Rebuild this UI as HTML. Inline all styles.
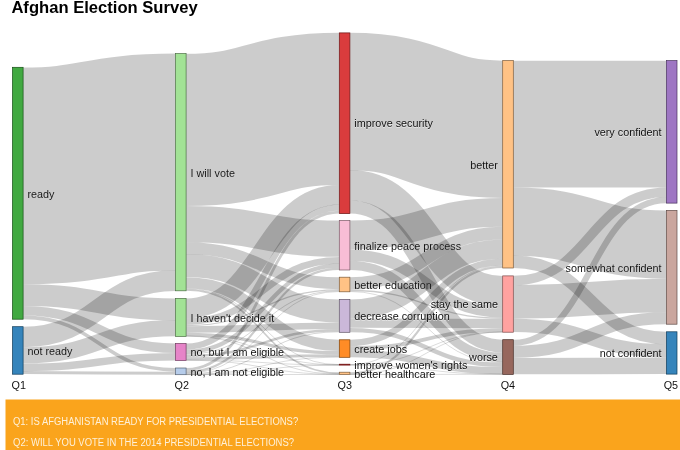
<!DOCTYPE html>
<html><head><meta charset="utf-8"><title>Afghan Election Survey</title>
<style>
html,body{margin:0;padding:0;background:#fff;}
body{width:680px;height:450px;overflow:hidden;position:relative;font-family:"Liberation Sans",Arial,sans-serif;}
h1{position:absolute;left:11.4px;top:-2px;margin:0;font-size:16.6px;line-height:20px;font-weight:bold;color:#000;white-space:nowrap;}
svg{position:absolute;left:0;top:0;}
.link path{fill:none;stroke:#000;stroke-opacity:.2;}
.node rect{fill-opacity:.9;stroke-width:.7;}
.lab text,.q text{font-size:10.8px;fill:#111;}
.lab text{text-shadow:0 .7px 0 rgba(255,255,255,.55);}
.leg text{font-size:10px;fill:#fef0d8;}
</style></head><body>
<h1>Afghan Election Survey</h1>
<svg width="680" height="450" viewBox="0 0 680 450">
<g class="link">
<path d="M23.1,175.9C99.3,175.9 99.3,162.0 175.5,162.0" stroke-width="216.86"/>
<path d="M23.1,295.2C99.3,295.2 99.3,309.3 175.5,309.3" stroke-width="21.70"/>
<path d="M23.1,310.8C99.3,310.8 99.3,348.2 175.5,348.2" stroke-width="9.50"/>
<path d="M23.1,317.4C99.3,317.4 99.3,369.8 175.5,369.8" stroke-width="3.70"/>
<path d="M23.1,337.0C99.3,337.0 99.3,280.6 175.5,280.6" stroke-width="20.55"/>
<path d="M23.1,355.4C99.3,355.4 99.3,328.2 175.5,328.2" stroke-width="16.25"/>
<path d="M23.1,367.4C99.3,367.4 99.3,356.7 175.5,356.7" stroke-width="7.52"/>
<path d="M23.1,372.6C99.3,372.6 99.3,373.2 175.5,373.2" stroke-width="3.01"/>
<path d="M186.1,129.9C262.7,129.9 262.7,108.9 339.3,108.9" stroke-width="152.28"/>
<path d="M186.1,224.2C262.7,224.2 262.7,238.7 339.3,238.7" stroke-width="36.29"/>
<path d="M186.1,248.2C262.7,248.2 262.7,283.2 339.3,283.2" stroke-width="11.93"/>
<path d="M186.1,265.6C262.7,265.6 262.7,310.9 339.3,310.9" stroke-width="23.04"/>
<path d="M186.1,282.9C262.7,282.9 262.7,345.4 339.3,345.4" stroke-width="11.44"/>
<path d="M186.1,288.9C262.7,288.9 262.7,364.6 339.3,364.6" stroke-width="0.71"/>
<path d="M186.1,290.0C262.7,290.0 262.7,373.1 339.3,373.1" stroke-width="1.62"/>
<path d="M186.1,308.3C262.7,308.3 262.7,194.8 339.3,194.8" stroke-width="19.67"/>
<path d="M186.1,321.6C262.7,321.6 262.7,260.3 339.3,260.3" stroke-width="6.74"/>
<path d="M186.1,325.6C262.7,325.6 262.7,289.8 339.3,289.8" stroke-width="1.22"/>
<path d="M186.1,329.4C262.7,329.4 262.7,325.7 339.3,325.7" stroke-width="6.54"/>
<path d="M186.1,334.3C262.7,334.3 262.7,352.7 339.3,352.7" stroke-width="3.19"/>
<path d="M186.1,336.0C262.7,336.0 262.7,364.9 339.3,364.9" stroke-width="0.71"/>
<path d="M186.1,336.2C262.7,336.2 262.7,374.0 339.3,374.0" stroke-width="0.71"/>
<path d="M186.1,346.6C262.7,346.6 262.7,207.7 339.3,207.7" stroke-width="6.21"/>
<path d="M186.1,351.8C262.7,351.8 262.7,265.7 339.3,265.7" stroke-width="4.22"/>
<path d="M186.1,354.3C262.7,354.3 262.7,290.8 339.3,290.8" stroke-width="0.81"/>
<path d="M186.1,356.0C262.7,356.0 262.7,330.2 339.3,330.2" stroke-width="2.51"/>
<path d="M186.1,358.6C262.7,358.6 262.7,355.7 339.3,355.7" stroke-width="2.79"/>
<path d="M186.1,360.1C262.7,360.1 262.7,365.0 339.3,365.0" stroke-width="0.71"/>
<path d="M186.1,360.3C262.7,360.3 262.7,374.3 339.3,374.3" stroke-width="0.71"/>
<path d="M186.1,369.4C262.7,369.4 262.7,212.2 339.3,212.2" stroke-width="2.82"/>
<path d="M186.1,371.9C262.7,371.9 262.7,268.9 339.3,268.9" stroke-width="2.22"/>
<path d="M186.1,373.3C262.7,373.3 262.7,291.5 339.3,291.5" stroke-width="0.71"/>
<path d="M186.1,373.9C262.7,373.9 262.7,331.8 339.3,331.8" stroke-width="0.81"/>
<path d="M186.1,374.4C262.7,374.4 262.7,357.2 339.3,357.2" stroke-width="0.71"/>
<path d="M186.1,374.6C262.7,374.6 262.7,365.1 339.3,365.1" stroke-width="0.71"/>
<path d="M186.1,374.6C262.7,374.6 262.7,374.5 339.3,374.5" stroke-width="0.71"/>
<path d="M349.9,101.5C426.3,101.5 426.3,129.3 502.7,129.3" stroke-width="137.33"/>
<path d="M349.9,185.3C426.3,185.3 426.3,291.1 502.7,291.1" stroke-width="30.40"/>
<path d="M349.9,207.1C426.3,207.1 426.3,346.2 502.7,346.2" stroke-width="13.00"/>
<path d="M349.9,235.0C426.3,235.0 426.3,212.4 502.7,212.4" stroke-width="28.84"/>
<path d="M349.9,255.1C426.3,255.1 426.3,311.9 502.7,311.9" stroke-width="11.31"/>
<path d="M349.9,265.4C426.3,265.4 426.3,357.3 502.7,357.3" stroke-width="9.31"/>
<path d="M349.9,283.5C426.3,283.5 426.3,233.2 502.7,233.2" stroke-width="12.70"/>
<path d="M349.9,290.5C426.3,290.5 426.3,318.2 502.7,318.2" stroke-width="1.30"/>
<path d="M349.9,291.5C426.3,291.5 426.3,362.3 502.7,362.3" stroke-width="0.71"/>
<path d="M349.9,309.0C426.3,309.0 426.3,249.1 502.7,249.1" stroke-width="19.20"/>
<path d="M349.9,323.2C426.3,323.2 426.3,323.5 502.7,323.5" stroke-width="9.30"/>
<path d="M349.9,330.1C426.3,330.1 426.3,364.8 502.7,364.8" stroke-width="4.40"/>
<path d="M349.9,343.0C426.3,343.0 426.3,262.0 502.7,262.0" stroke-width="6.50"/>
<path d="M349.9,348.1C426.3,348.1 426.3,330.1 502.7,330.1" stroke-width="3.80"/>
<path d="M349.9,353.7C426.3,353.7 426.3,370.6 502.7,370.6" stroke-width="7.20"/>
<path d="M349.9,364.6C426.3,364.6 426.3,265.6 502.7,265.6" stroke-width="0.71"/>
<path d="M349.9,365.0C426.3,365.0 426.3,332.0 502.7,332.0" stroke-width="0.71"/>
<path d="M349.9,365.1C426.3,365.1 426.3,374.2 502.7,374.2" stroke-width="0.71"/>
<path d="M349.9,373.3C426.3,373.3 426.3,267.0 502.7,267.0" stroke-width="2.10"/>
<path d="M349.9,374.4C426.3,374.4 426.3,332.1 502.7,332.1" stroke-width="0.71"/>
<path d="M349.9,374.5C426.3,374.5 426.3,374.3 502.7,374.3" stroke-width="0.71"/>
<path d="M513.3,124.1C589.8,124.1 589.8,124.1 666.4,124.1" stroke-width="126.88"/>
<path d="M513.3,221.6C589.8,221.6 589.8,244.6 666.4,244.6" stroke-width="68.10"/>
<path d="M513.3,261.8C589.8,261.8 589.8,338.0 666.4,338.0" stroke-width="12.50"/>
<path d="M513.3,280.6C589.8,280.6 589.8,192.2 666.4,192.2" stroke-width="9.49"/>
<path d="M513.3,302.1C589.8,302.1 589.8,295.4 666.4,295.4" stroke-width="33.46"/>
<path d="M513.3,325.4C589.8,325.4 589.8,350.9 666.4,350.9" stroke-width="13.40"/>
<path d="M513.3,342.8C589.8,342.8 589.8,200.1 666.4,200.1" stroke-width="6.20"/>
<path d="M513.3,351.9C589.8,351.9 589.8,318.2 666.4,318.2" stroke-width="12.04"/>
<path d="M513.3,366.1C589.8,366.1 589.8,365.8 666.4,365.8" stroke-width="16.42"/>
</g>
<g class="node">
<rect x="12.5" y="67.3" width="10.6" height="251.9" fill="#2ca02c" stroke="#154e15"/>
<rect x="12.5" y="326.7" width="10.6" height="47.5" fill="#1f77b4" stroke="#0f3a58"/>
<rect x="175.5" y="53.6" width="10.6" height="237.2" fill="#98df8a" stroke="#4a6d43"/>
<rect x="175.5" y="298.5" width="10.6" height="37.9" fill="#98df8a" stroke="#4a6d43"/>
<rect x="175.5" y="343.5" width="10.6" height="17.0" fill="#e377c2" stroke="#6f3a5f"/>
<rect x="175.5" y="368.0" width="10.6" height="6.7" fill="#aec7e8" stroke="#556171"/>
<rect x="339.3" y="32.9" width="10.6" height="180.7" fill="#d62728" stroke="#681313"/>
<rect x="339.3" y="220.5" width="10.6" height="49.5" fill="#f7b6d2" stroke="#795966"/>
<rect x="339.3" y="277.2" width="10.6" height="14.6" fill="#ffbb78" stroke="#7c5b3a"/>
<rect x="339.3" y="299.4" width="10.6" height="32.9" fill="#c5b0d5" stroke="#605668"/>
<rect x="339.3" y="339.8" width="10.6" height="17.5" fill="#ff7f0e" stroke="#7c3e06"/>
<rect x="339.3" y="364.2" width="10.6" height="0.9" fill="#d62728" stroke="#681313"/>
<rect x="339.3" y="372.2" width="10.6" height="2.3" fill="#ffbb78" stroke="#7c5b3a"/>
<rect x="502.7" y="60.6" width="10.6" height="207.4" fill="#ffbb78" stroke="#7c5b3a"/>
<rect x="502.7" y="275.9" width="10.6" height="56.3" fill="#ff9896" stroke="#7c4a49"/>
<rect x="502.7" y="339.7" width="10.6" height="34.7" fill="#8c564b" stroke="#442a24"/>
<rect x="666.4" y="60.6" width="10.6" height="142.5" fill="#9467bd" stroke="#48325c"/>
<rect x="666.4" y="210.4" width="10.6" height="113.8" fill="#c49c94" stroke="#604c48"/>
<rect x="666.4" y="331.8" width="10.6" height="42.3" fill="#1f77b4" stroke="#0f3a58"/>
</g>
<g class="lab">
<text x="27.5" y="193.8" dy=".35em">ready</text>
<text x="27.5" y="350.9" dy=".35em">not ready</text>
<text x="190.5" y="172.8" dy=".35em">I will vote</text>
<text x="190.5" y="317.9" dy=".35em">I haven't decide it</text>
<text x="190.5" y="352.5" dy=".35em">no, but I am eligible</text>
<text x="190.5" y="371.8" dy=".35em">no, I am not eligible</text>
<text x="354.3" y="123.7" dy=".35em">improve security</text>
<text x="354.3" y="245.8" dy=".35em">finalize peace process</text>
<text x="354.3" y="285.0" dy=".35em">better education</text>
<text x="354.3" y="316.3" dy=".35em">decrease corruption</text>
<text x="354.3" y="349.0" dy=".35em">create jobs</text>
<text x="354.3" y="365.2" dy=".35em">improve women's rights</text>
<text x="354.3" y="373.9" dy=".35em">better healthcare</text>
<text x="497.9" y="164.8" dy=".35em" text-anchor="end">better</text>
<text x="497.9" y="304.5" dy=".35em" text-anchor="end">stay the same</text>
<text x="497.9" y="357.5" dy=".35em" text-anchor="end">worse</text>
<text x="661.6" y="132.4" dy=".35em" text-anchor="end">very confident</text>
<text x="661.6" y="267.9" dy=".35em" text-anchor="end">somewhat confident</text>
<text x="661.6" y="353.4" dy=".35em" text-anchor="end">not confident</text>
</g>
<g class="q"><text x="11.5" y="388.9">Q1</text><text x="174.6" y="388.9">Q2</text><text x="337.6" y="388.9">Q3</text><text x="500.7" y="388.9">Q4</text><text x="663.7" y="388.9">Q5</text></g>
<rect x="5.5" y="399.5" width="675" height="51" fill="#faa41c"/>
<g class="leg"><text x="13" y="425" textLength="285.2" lengthAdjust="spacingAndGlyphs">Q1: IS AFGHANISTAN READY FOR PRESIDENTIAL ELECTIONS?</text><text x="13" y="446.3" textLength="281" lengthAdjust="spacingAndGlyphs">Q2: WILL YOU VOTE IN THE 2014 PRESIDENTIAL ELECTIONS?</text></g>
</svg>
</body></html>
